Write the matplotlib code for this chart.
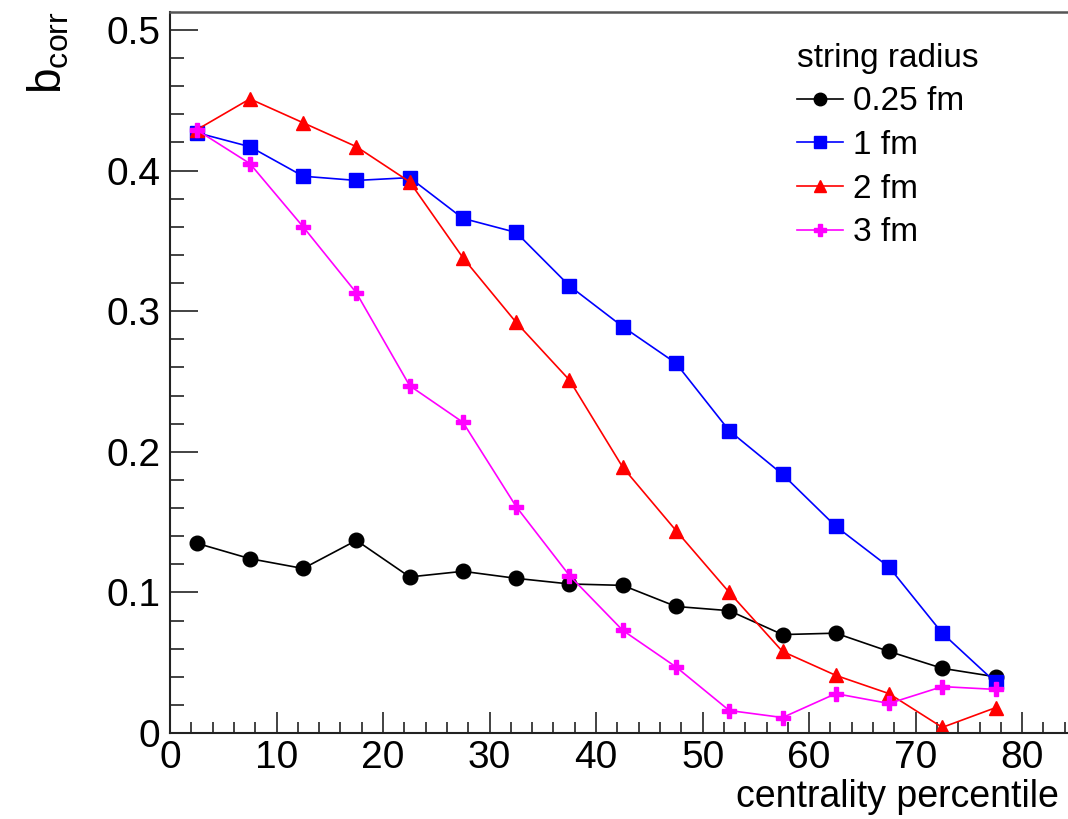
import matplotlib
matplotlib.use("Agg")
from matplotlib import pyplot as plt
from matplotlib.ticker import MultipleLocator, FixedLocator
import numpy as np

plt.rcParams['font.family'] = ['Liberation Sans', 'DejaVu Sans']
plt.rcParams['mathtext.fontset'] = 'custom'
plt.rcParams['mathtext.rm'] = 'Liberation Sans'

# centrality bin centres
cent = [2.5, 7.5, 12.5, 17.5, 22.5, 27.5, 32.5, 37.5,
        42.5, 47.5, 52.5, 57.5, 62.5, 67.5, 72.5, 77.5]

b_025 = [0.135, 0.124, 0.117, 0.137, 0.111, 0.115, 0.110, 0.106,
         0.105, 0.090, 0.087, 0.070, 0.071, 0.058, 0.046, 0.040]
b_1 = [0.427, 0.417, 0.396, 0.393, 0.395, 0.366, 0.356, 0.318,
       0.289, 0.263, 0.215, 0.184, 0.147, 0.118, 0.071, 0.036]
b_2 = [0.429, 0.451, 0.434, 0.417, 0.392, 0.338, 0.292, 0.251,
       0.189, 0.144, 0.100, 0.058, 0.041, 0.028, 0.004, 0.018]
b_3 = [0.429, 0.405, 0.360, 0.313, 0.247, 0.221, 0.161, 0.112,
       0.073, 0.047, 0.016, 0.011, 0.028, 0.021, 0.033, 0.031]

labels = ['0.25 fm', '1 fm', '2 fm', '3 fm']
yticks = [0, 0.1, 0.2, 0.3, 0.4, 0.5]
ytick_labels = ['0', '0.1', '0.2', '0.3', '0.4', '0.5']
xticks = [0, 10, 20, 30, 40, 50, 60, 70, 80]

fig = plt.figure(figsize=(10.68, 8.19), dpi=100)
ax = fig.add_axes([170/1068, 86/819, 898/1068, 721/819])

# black circles, blue squares, red triangles, magenta crosses
ax.plot(cent, b_025, color='black', lw=1.2, marker='o', ms=10.5, label=labels[0])
ax.plot(cent, b_1, color='#0000ff', lw=1.2, marker='s', ms=10.5, label=labels[1])
ax.plot(cent, b_2, color='#ff0000', lw=1.2, marker='^', ms=10.5, label=labels[2])
ax.plot(cent, b_3, color='#ff00ff', lw=1.2, marker='P', ms=10.5, label=labels[3])

ax.set_xlim(0, 84.3)
ax.set_ylim(0, 0.5128)

ax.xaxis.set_major_locator(FixedLocator(xticks))
ax.xaxis.set_minor_locator(MultipleLocator(2))
ax.yaxis.set_major_locator(FixedLocator(yticks))
ax.set_yticklabels(ytick_labels)
ax.yaxis.set_minor_locator(MultipleLocator(0.02))

ax.tick_params(which='both', direction='in', top=False, right=False,
               labelsize=28, color='#222222')
ax.tick_params(axis='y', which='major', length=20, width=1.2, pad=7)
ax.tick_params(axis='y', which='minor', length=10, width=1.2)
ax.tick_params(axis='x', which='major', length=15, width=1.2, pad=5)
ax.tick_params(axis='x', which='minor', length=8, width=1.2)

ax.spines['right'].set_visible(False)
ax.spines['top'].set_color('#555555')
ax.spines['top'].set_linewidth(1.8)
for s in ['left', 'bottom']:
    ax.spines[s].set_linewidth(1.5)
    ax.spines[s].set_color('#222222')

ax.set_xlabel('centrality percentile', fontsize=27, ha='right', x=0.99)
ax.xaxis.labelpad = 2
fig.text(0.024, 0.986, r'$\mathrm{b_{corr}}$', rotation=90, fontsize=33,
         ha='left', va='top')

leg = ax.legend(title='string radius', loc='upper left',
                bbox_to_anchor=(0.672, 0.99), frameon=False, fontsize=24,
                title_fontsize=24, alignment='left', handlelength=1.4,
                handletextpad=0.3, labelspacing=0.38, borderpad=0.2)
for h in leg.legend_handles:
    h.set_markersize(9)

fig.savefig('out.png', dpi=100)
